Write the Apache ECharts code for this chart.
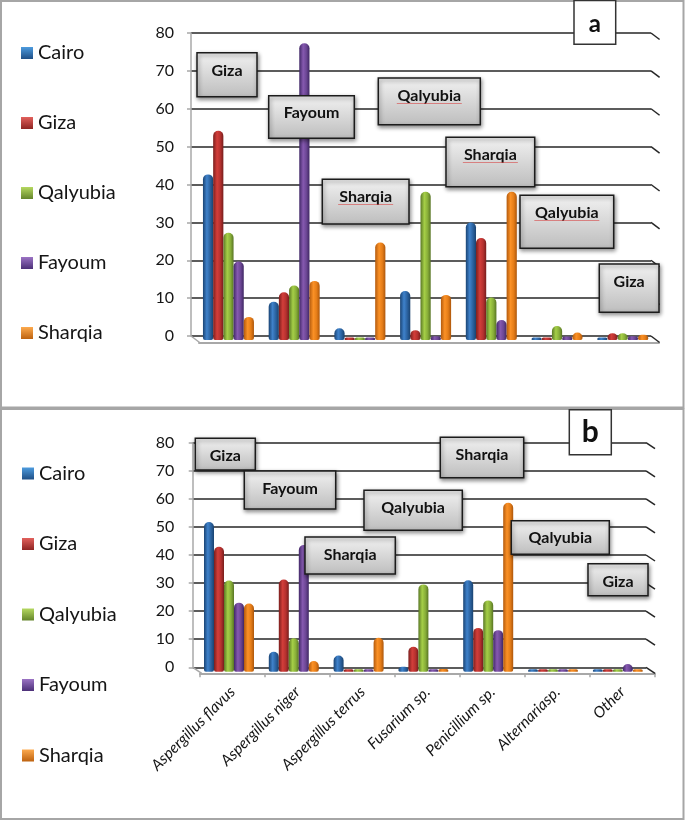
<!DOCTYPE html>
<html>
<head>
<meta charset="utf-8">
<style>html,body{margin:0;padding:0;background:#fff}#c{width:685px;height:820px}</style>
<script src="https://cdn.jsdelivr.net/npm/echarts@6/dist/echarts.min.js"></script>
</head>
<body>
<div id="c"></div>
<script>
var categories = ['Aspergillus flavus','Aspergillus niger','Aspergillus terrus','Fusarium sp.','Penicillium sp.','Alternariasp.','Other'];
var regions = ['Cairo','Giza','Qalyubia','Fayoum','Sharqia'];
var yTicks = [0,10,20,30,40,50,60,70,80];

var cairoA    = [43.7,10.1,3.1,12.9,31,0,0];
var gizaA     = [55.2,12.6,0,2.6,26.9,0,1.8];
var qalyubiaA = [28.3,14.4,0,39.1,11.2,3.7,1.8];
var fayoumA   = [20.7,78.3,0,1,5.3,0.9,1];
var sharqiaA  = [6.1,15.6,25.7,11.9,39.1,2,1.4];

var cairoB    = [53.3,7.1,5.8,1.8,32.6,0,0];
var gizaB     = [44.5,32.8,0,8.9,15.6,0,0];
var qalyubiaB = [32.5,11.9,0,31.1,25.4,0,0];
var fayoumB   = [24.6,45.1,0,0,14.8,0,2.7];
var sharqiaB  = [24.3,3.8,12.1,1,60.2,0,0];

var shades = [
  ['#1a4474','#3f82cb','#2b629f','#1a4370'],
  ['#7a1e1d','#d33e3a','#b5312f','#771d1c'],
  ['#5a7826','#a5cf47','#88ae39','#587524'],
  ['#412867','#8659b0','#6b4694','#3f2763'],
  ['#b35a0d','#fb9126','#e57d18','#ad570c']
];
var flats = [['#4d9bde','#1f4f86'],['#e2605c','#8e2523'],['#b5d860','#64852b'],['#9b73c4','#4c3078'],['#fdaa4e','#bd620f']];

function cyl(s){
  return {type:'linear',x:0,y:0,x2:1,y2:0,colorStops:[
    {offset:0,color:s[0]},{offset:0.38,color:s[1]},{offset:0.7,color:s[2]},{offset:1,color:s[3]}]};
}
function barSeries(name,idx,vals,axis,w){
  return {type:'bar',name:name,xAxisIndex:axis,yAxisIndex:axis,data:vals,barWidth:w,barGap:0,barMinHeight:2.5,
    itemStyle:{color:cyl(shades[idx]),borderRadius:[5,5,2,2]},silent:true};
}
function decoSeries(axis,dx,dy){
  return {type:'custom',xAxisIndex:axis,yAxisIndex:axis,silent:true,z:1,
    data:yTicks.map(function(v){return [1,v];}),
    renderItem:function(p,api){
      var r=api.coord([1,api.value(1)]), l=api.coord([0,api.value(1)]);
      var kids=[{type:'line',shape:{x1:r[0],y1:r[1],x2:r[0]+dx,y2:r[1]+dy},style:{stroke:'#262626',lineWidth:1.5}}];
      if(api.value(1)===0){
        kids.push({type:'line',shape:{x1:l[0],y1:l[1],x2:l[0]+dx,y2:l[1]+dy},style:{stroke:'#a8a8a8',lineWidth:1.5}});
      }
      return {type:'group',children:kids};
    }};
}
function legendFor(top,left,gap){
  return {orient:'vertical',left:left,top:top,itemWidth:12,itemHeight:12,itemGap:gap,icon:'rect',selectedMode:false,
    textStyle:{fontFamily:'Lato',fontSize:20,color:'#151515',lineHeight:20,padding:[0,0,0,0]},
    data:regions.map(function(n,i){
      return {name:n,itemStyle:{color:{type:'linear',x:0,y:0,x2:0,y2:1,colorStops:[{offset:0,color:flats[i][0]},{offset:1,color:flats[i][1]}]}}};
    })};
}
function backY(g,m){
  return {type:'value',gridIndex:g,min:0,max:80,interval:10,
    axisLine:{show:true,lineStyle:{color:'#a8a8a8',width:1.5}},
    axisTick:{show:true,length:4,lineStyle:{color:'#a8a8a8',width:1.5}},
    axisLabel:{fontFamily:'Lato',fontSize:16,color:'#151515',margin:m},
    splitLine:{show:true,lineStyle:{color:'#262626',width:1.5}}};
}
function hiddenY(g){return {type:'value',gridIndex:g,min:0,max:80,interval:10,show:false};}

var grids = [
  {left:191,top:33,width:460,height:303},
  {left:195.6,top:36.8,width:460,height:303.2},
  {left:199,top:300,width:460,height:42.5},
  {left:192.7,top:442.7,width:453.3,height:224.6},
  {left:196.6,top:447.1,width:453.6,height:224.6},
  {left:200,top:630,width:455,height:43.3}
];
var xAxes = [
  {type:'value',gridIndex:0,min:0,max:1,show:false},
  {type:'category',gridIndex:1,data:categories,show:false},
  {type:'category',gridIndex:2,data:categories,axisLine:{show:true,lineStyle:{color:'#a8a8a8',width:2}},axisTick:{show:false},axisLabel:{show:false}},
  {type:'value',gridIndex:3,min:0,max:1,show:false},
  {type:'category',gridIndex:4,data:categories,show:false},
  {type:'category',gridIndex:5,data:categories,
    axisLine:{show:true,lineStyle:{color:'#a8a8a8',width:2}},
    axisTick:{show:true,length:4,lineStyle:{color:'#a8a8a8',width:1.5}},
    axisLabel:{interval:0,rotate:45,fontFamily:'Lato',fontStyle:'italic',fontSize:15.5,color:'#151515',margin:16}}
];
var yAxes = [backY(0,17),hiddenY(1),hiddenY(2),backY(3,18.5),hiddenY(4),hiddenY(5)];

var series = [
  decoSeries(0,8.6,6.5),
  barSeries('Cairo',0,cairoA,1,10.2),barSeries('Giza',1,gizaA,1,10.2),barSeries('Qalyubia',2,qalyubiaA,1,10.2),
  barSeries('Fayoum',3,fayoumA,1,10.2),barSeries('Sharqia',4,sharqiaA,1,10.2),
  decoSeries(3,9,6),
  barSeries('Cairo',0,cairoB,4,10),barSeries('Giza',1,gizaB,4,10),barSeries('Qalyubia',2,qalyubiaB,4,10),
  barSeries('Fayoum',3,fayoumB,4,10),barSeries('Sharqia',4,sharqiaB,4,10)
];

var g = [];
function frame(x,y,w,h){
  g.push({type:'rect',shape:{x:x,y:y,width:w,height:h},style:{fill:'none',stroke:'#a6a6a6',lineWidth:2},z:0,silent:true});
}
function box(x0,x1,y0,y1,label,ty,uw){
  g.push({type:'rect',z:100,silent:true,shape:{x:x0,y:y0,width:x1-x0,height:y1-y0},
    style:{fill:{type:'linear',x:0,y:0,x2:0,y2:1,colorStops:[{offset:0,color:'#f2f2f2'},{offset:1,color:'#bdbdbd'}]},
      stroke:'#1c1c1c',lineWidth:1.5,shadowBlur:4,shadowOffsetX:1,shadowOffsetY:2,shadowColor:'rgba(0,0,0,0.45)'}});
  var c=(x0+x1)/2;
  g.push({type:'text',z:101,silent:true,style:{text:label,x:c,y:ty,align:'center',verticalAlign:'middle',fill:'#111',font:'bold 16px Lato'}});
  if(uw){
    g.push({type:'line',z:101,silent:true,shape:{x1:c-uw/2,y1:ty+7.5,x2:c+uw/2,y2:ty+7.5},style:{stroke:'rgba(215,70,70,0.6)',lineWidth:1}});
  }
}
function tag(x0,x1,y0,y1,label,ty,size){
  g.push({type:'rect',z:100,silent:true,shape:{x:x0,y:y0,width:x1-x0,height:y1-y0},style:{fill:'#fff',stroke:'#333',lineWidth:1.5}});
  g.push({type:'text',z:101,silent:true,style:{text:label,x:(x0+x1)/2,y:ty,align:'center',verticalAlign:'middle',fill:'#111',font:'bold '+size+'px Lato'}});
}
frame(1,1,682.5,406.5);
frame(1,409,682.5,410);
box(197,257,52.7,96.7,'Giza',71);
box(268.7,354.3,95.7,138.3,'Fayoum',113);
box(378.3,480.3,78,124.7,'Qalyubia',96,65);
box(322.3,409,179.3,224,'Sharqia',197,55);
box(446,534.7,137.3,186.7,'Sharqia',155,55);
box(520,613.7,195.3,248.3,'Qalyubia',213,65);
box(599.3,659,264,312.3,'Giza',282);
tag(574,615.7,0.5,44.3,'a',24,24);
box(195.3,255.3,438.3,470,'Giza',456);
box(244.3,335.7,471,509,'Fayoum',489);
box(305,395.3,537,574,'Sharqia',555);
box(364,462.3,490.3,530.3,'Qalyubia',508);
box(440.3,523.7,437.3,477.7,'Sharqia',455);
box(511.3,609.3,520.7,554.3,'Qalyubia',538);
box(588,648,563.7,595.7,'Giza',582);
tag(569.3,611.3,409.7,454.7,'b',432,30);

var chart = echarts.init(document.getElementById('c'),null,{renderer:'canvas',width:685,height:820});
chart.setOption({
  animation:false,
  backgroundColor:'#fff',
  grid:grids,
  xAxis:xAxes,
  yAxis:yAxes,
  legend:[legendFor(38,16,50),legendFor(458.5,17,50.5)],
  series:series,
  graphic:{elements:g}
});
</script>
</body>
</html>
